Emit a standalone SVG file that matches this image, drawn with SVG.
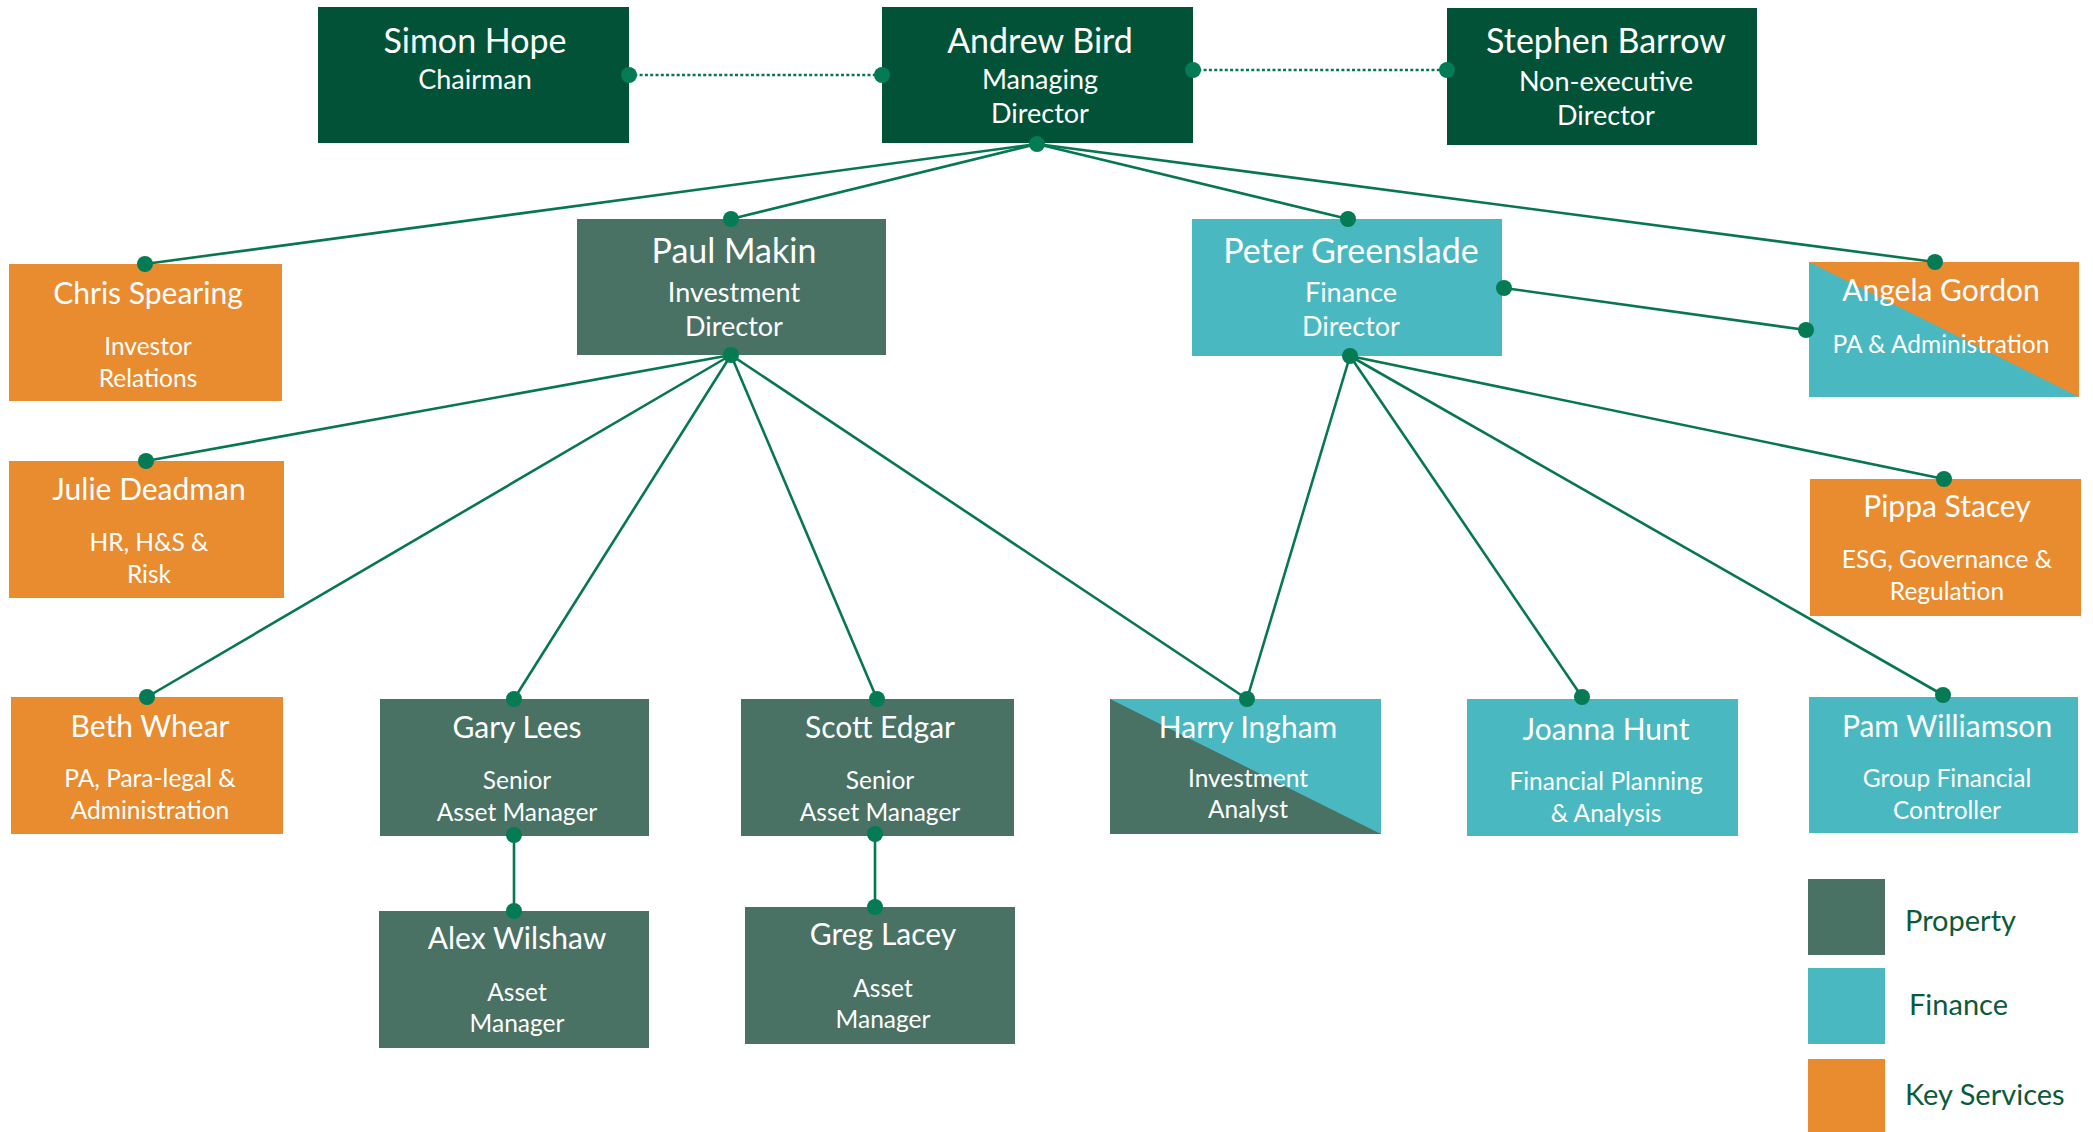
<svg xmlns="http://www.w3.org/2000/svg" width="2093" height="1132" viewBox="0 0 2093 1132">
<style>
.top{fill:#015237}
.prop{fill:#4A7264}
.fin{fill:#4AB8C1}
.key{fill:#E98B2F}
text{font-family:Lato,"Open Sans","Liberation Sans",sans-serif;fill:#fff;text-anchor:middle}
.n1{font-size:34px}
.s1{font-size:27px}
.n2{font-size:30px}
.s2{font-size:24.5px}
.lg{font-size:29px;fill:#0B5A3C;text-anchor:start}
.ln{stroke:#06774F;stroke-width:2.6;fill:none}
.dl{stroke:#06774F;stroke-width:2.6;stroke-dasharray:3 2.3;fill:none}
.dot{fill:#047A55}
</style>
<defs><circle id="d" r="8" class="dot"/></defs>
<rect width="2093" height="1132" fill="#fff"/>
<g id="simon-hope"><rect class="top" x="318" y="7" width="311" height="136"/><text class="n1" x="475" y="53">Simon Hope</text><text class="s1" x="475" y="89">Chairman</text></g>
<g id="andrew-bird"><rect class="top" x="882" y="7" width="311" height="136"/><text class="n1" x="1040" y="53">Andrew Bird</text><text class="s1" x="1040" y="89">Managing</text><text class="s1" x="1040" y="123">Director</text></g>
<g id="stephen-barrow"><rect class="top" x="1447" y="8" width="310" height="137"/><text class="n1" x="1606" y="53">Stephen Barrow</text><text class="s1" x="1606" y="91">Non-executive</text><text class="s1" x="1606" y="125">Director</text></g>
<g id="chris-spearing"><rect class="key" x="9" y="264" width="273" height="137"/><text class="n2" x="148" y="304">Chris Spearing</text><text class="s2" x="148" y="355">Investor</text><text class="s2" x="148" y="387">Relations</text></g>
<g id="paul-makin"><rect class="prop" x="577" y="219" width="309" height="136"/><text class="n1" x="734" y="263">Paul Makin</text><text class="s1" x="734" y="302">Investment</text><text class="s1" x="734" y="336">Director</text></g>
<g id="peter-greenslade"><rect class="fin" x="1192" y="219" width="310" height="137"/><text class="n1" x="1351" y="263">Peter Greenslade</text><text class="s1" x="1351" y="302">Finance</text><text class="s1" x="1351" y="336">Director</text></g>
<g id="angela-gordon"><rect class="key" x="1809" y="262" width="270" height="135"/><polygon class="fin" points="1809,262 1809,397 2079,397"/><text class="n2" x="1941" y="301">Angela Gordon</text><text class="s2" x="1941" y="353">PA &amp; Administration</text></g>
<g id="julie-deadman"><rect class="key" x="9" y="461" width="275" height="137"/><text class="n2" x="149" y="500">Julie Deadman</text><text class="s2" x="149" y="551">HR, H&amp;S &amp;</text><text class="s2" x="149" y="583">Risk</text></g>
<g id="pippa-stacey"><rect class="key" x="1810" y="479" width="271" height="137"/><text class="n2" x="1947" y="517">Pippa Stacey</text><text class="s2" x="1947" y="568">ESG, Governance &amp;</text><text class="s2" x="1947" y="600">Regulation</text></g>
<g id="beth-whear"><rect class="key" x="11" y="697" width="272" height="137"/><text class="n2" x="150" y="737">Beth Whear</text><text class="s2" x="150" y="787">PA, Para-legal &amp;</text><text class="s2" x="150" y="819">Administration</text></g>
<g id="gary-lees"><rect class="prop" x="380" y="699" width="269" height="137"/><text class="n2" x="517" y="738">Gary Lees</text><text class="s2" x="517" y="789">Senior</text><text class="s2" x="517" y="821">Asset Manager</text></g>
<g id="scott-edgar"><rect class="prop" x="741" y="699" width="273" height="137"/><text class="n2" x="880" y="738">Scott Edgar</text><text class="s2" x="880" y="789">Senior</text><text class="s2" x="880" y="821">Asset Manager</text></g>
<g id="harry-ingham"><rect class="prop" x="1110" y="699" width="271" height="135"/><polygon class="fin" points="1110,699 1381,699 1381,834"/><text class="n2" x="1248" y="738">Harry Ingham</text><text class="s2" x="1248" y="787">Investment</text><text class="s2" x="1248" y="818">Analyst</text></g>
<g id="joanna-hunt"><rect class="fin" x="1467" y="699" width="271" height="137"/><text class="n2" x="1606" y="740">Joanna Hunt</text><text class="s2" x="1606" y="790">Financial Planning</text><text class="s2" x="1606" y="822">&amp; Analysis</text></g>
<g id="pam-williamson"><rect class="fin" x="1809" y="697" width="269" height="136"/><text class="n2" x="1947" y="737">Pam Williamson</text><text class="s2" x="1947" y="787">Group Financial</text><text class="s2" x="1947" y="819">Controller</text></g>
<g id="alex-wilshaw"><rect class="prop" x="379" y="911" width="270" height="137"/><text class="n2" x="517" y="949">Alex Wilshaw</text><text class="s2" x="517" y="1001">Asset</text><text class="s2" x="517" y="1032">Manager</text></g>
<g id="greg-lacey"><rect class="prop" x="745" y="907" width="270" height="137"/><text class="n2" x="883" y="945">Greg Lacey</text><text class="s2" x="883" y="997">Asset</text><text class="s2" x="883" y="1028">Manager</text></g>
<g id="legend">
<rect class="prop" x="1808" y="879" width="77" height="76"/><text class="lg" x="1905" y="931">Property</text>
<rect class="fin" x="1808" y="968" width="77" height="76"/><text class="lg" x="1909" y="1015">Finance</text>
<rect class="key" x="1808" y="1059" width="77" height="73"/><text class="lg" x="1905" y="1105">Key Services</text>
</g>
<g id="connectors">
<line class="dl" x1="629" y1="75" x2="882" y2="75"/>
<line class="dl" x1="1193" y1="70" x2="1447" y2="70"/>
<line class="ln" x1="1037" y1="144" x2="145" y2="264"/>
<line class="ln" x1="1037" y1="144" x2="731" y2="219"/>
<line class="ln" x1="1037" y1="144" x2="1348" y2="219"/>
<line class="ln" x1="1037" y1="144" x2="1935" y2="262"/>
<line class="ln" x1="731" y1="355" x2="146" y2="461"/>
<line class="ln" x1="731" y1="355" x2="147" y2="697"/>
<line class="ln" x1="731" y1="355" x2="514" y2="699"/>
<line class="ln" x1="731" y1="355" x2="877" y2="699"/>
<line class="ln" x1="731" y1="355" x2="1247" y2="699"/>
<line class="ln" x1="1350" y1="356" x2="1247" y2="699"/>
<line class="ln" x1="1350" y1="356" x2="1582" y2="697"/>
<line class="ln" x1="1350" y1="356" x2="1943" y2="695"/>
<line class="ln" x1="1350" y1="356" x2="1944" y2="479"/>
<line class="ln" x1="1504" y1="288" x2="1806" y2="330"/>
<line class="ln" x1="514" y1="835" x2="514" y2="911"/>
<line class="ln" x1="875" y1="834" x2="875" y2="907"/>
<use href="#d" x="629" y="75"/>
<use href="#d" x="882" y="75"/>
<use href="#d" x="1193" y="70"/>
<use href="#d" x="1447" y="70"/>
<use href="#d" x="1037" y="144"/>
<use href="#d" x="145" y="264"/>
<use href="#d" x="731" y="219"/>
<use href="#d" x="1348" y="219"/>
<use href="#d" x="1935" y="262"/>
<use href="#d" x="731" y="355"/>
<use href="#d" x="146" y="461"/>
<use href="#d" x="147" y="697"/>
<use href="#d" x="514" y="699"/>
<use href="#d" x="877" y="699"/>
<use href="#d" x="1247" y="699"/>
<use href="#d" x="1350" y="356"/>
<use href="#d" x="1582" y="697"/>
<use href="#d" x="1943" y="695"/>
<use href="#d" x="1944" y="479"/>
<use href="#d" x="1504" y="288"/>
<use href="#d" x="1806" y="330"/>
<use href="#d" x="514" y="835"/>
<use href="#d" x="514" y="911"/>
<use href="#d" x="875" y="834"/>
<use href="#d" x="875" y="907"/>
</g>
</svg>
